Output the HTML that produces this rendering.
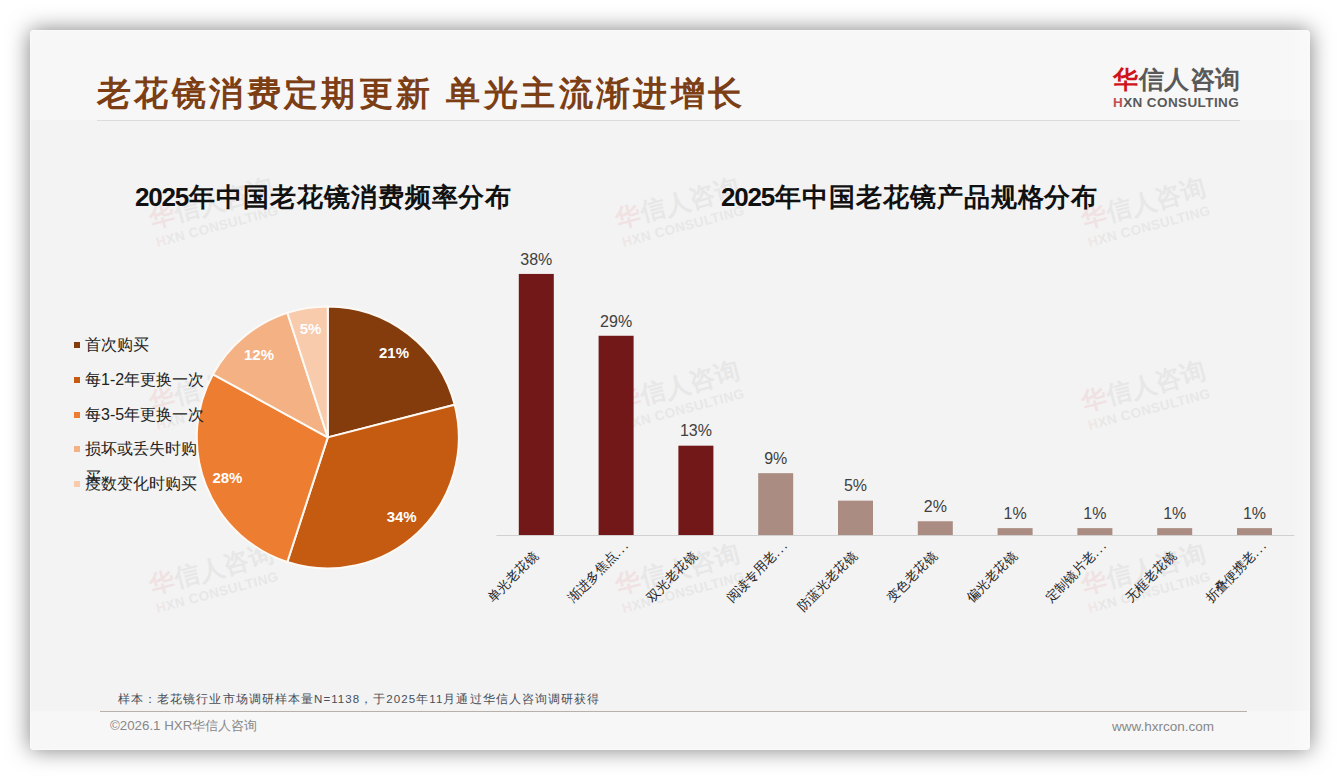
<!DOCTYPE html>
<html><head><meta charset="utf-8"><style>
*{margin:0;padding:0;box-sizing:border-box}
html,body{width:1340px;height:780px;overflow:hidden;background:#fff;font-family:"Liberation Sans", sans-serif}
.abs{position:absolute}
#slide{position:absolute;left:30px;top:30px;width:1280px;height:720px;background:#f3f3f3;box-shadow:0 0 22px rgba(0,0,0,.5);border:1px solid #fafafa;border-radius:3px}
#hdr{position:absolute;left:31px;top:31px;width:1278px;height:89px;background:#f7f7f7;border-radius:2px 2px 0 0}
#ftr{position:absolute;left:31px;top:711px;width:1278px;height:38px;background:#f7f7f7;border-radius:0 0 2px 2px}
.title{position:absolute;left:97px;top:70px;font-size:34px;font-weight:bold;color:#7C3E14;white-space:nowrap;line-height:46px;letter-spacing:3.4px}
.hline{position:absolute;left:97px;top:120px;width:1143px;height:1px;background:#dcdcdc}
.logo1{position:absolute;left:1113px;top:62.5px;font-size:25px;line-height:32px;color:#595959;font-weight:bold;white-space:nowrap;letter-spacing:0.6px}
.logo2{position:absolute;left:1113px;top:95px;font-size:13.5px;line-height:15px;color:#595959;font-weight:bold;white-space:nowrap;letter-spacing:0.4px}
.ct{position:absolute;font-size:26px;font-weight:bold;color:#111;white-space:nowrap;line-height:34px;letter-spacing:0.9px}
.dg{letter-spacing:-1.2px;margin-right:1.4px}
.wm{position:absolute;width:130px;height:50px;transform-origin:0.5px 43.5px;transform:rotate(-15deg);opacity:.07;white-space:nowrap}
.wm1{position:absolute;left:0;top:0;font-size:25px;line-height:32px;color:#595959;font-weight:bold;letter-spacing:0.6px}
.wm2{position:absolute;left:0px;top:32.5px;font-size:13.5px;line-height:15px;color:#595959;font-weight:bold;letter-spacing:0.4px}
.lm{position:absolute;left:74px;width:6px;height:6px}
.lt{position:absolute;left:85px;font-size:16px;line-height:22px;color:#222;white-space:nowrap}
.el{letter-spacing:1.8px;margin-right:-16px}
.xl{position:absolute;width:150px;text-align:right;font-size:13px;line-height:20px;color:#222;white-space:nowrap;transform-origin:100% 50%;transform:rotate(-45deg)}
.note{position:absolute;left:118px;top:690.5px;font-size:11.5px;line-height:16px;color:#474e58;white-space:nowrap;letter-spacing:1.07px}
.fline{position:absolute;left:100px;top:711px;width:1147px;height:1px;background:#b8b0aa}
.copy{position:absolute;left:110px;top:717px;font-size:13.3px;line-height:17px;color:#888;white-space:nowrap}
.web{position:absolute;left:1112px;top:717.5px;font-size:13.5px;line-height:17px;color:#888;white-space:nowrap}
</style></head><body>
<div id="slide"></div>
<div id="hdr"></div>
<div id="ftr"></div>
<div style="position:absolute;left:1291px;top:31px;width:18px;height:718px;background:linear-gradient(to right,rgba(255,255,255,0),rgba(255,255,255,.35))"></div>
<div class="wm" style="left:156.9px;top:201.5px"><div class="wm1"><span style="color:#d0121b">华</span>信人咨询</div><div class="wm2"><span style="color:#c0504d">H</span>XN CONSULTING</div></div>
<div class="wm" style="left:623.0px;top:201.5px"><div class="wm1"><span style="color:#d0121b">华</span>信人咨询</div><div class="wm2"><span style="color:#c0504d">H</span>XN CONSULTING</div></div>
<div class="wm" style="left:1089.1px;top:201.5px"><div class="wm1"><span style="color:#d0121b">华</span>信人咨询</div><div class="wm2"><span style="color:#c0504d">H</span>XN CONSULTING</div></div>
<div class="wm" style="left:156.9px;top:384.8px"><div class="wm1"><span style="color:#d0121b">华</span>信人咨询</div><div class="wm2"><span style="color:#c0504d">H</span>XN CONSULTING</div></div>
<div class="wm" style="left:623.0px;top:384.8px"><div class="wm1"><span style="color:#d0121b">华</span>信人咨询</div><div class="wm2"><span style="color:#c0504d">H</span>XN CONSULTING</div></div>
<div class="wm" style="left:1089.1px;top:384.8px"><div class="wm1"><span style="color:#d0121b">华</span>信人咨询</div><div class="wm2"><span style="color:#c0504d">H</span>XN CONSULTING</div></div>
<div class="wm" style="left:156.9px;top:568.1px"><div class="wm1"><span style="color:#d0121b">华</span>信人咨询</div><div class="wm2"><span style="color:#c0504d">H</span>XN CONSULTING</div></div>
<div class="wm" style="left:623.0px;top:568.1px"><div class="wm1"><span style="color:#d0121b">华</span>信人咨询</div><div class="wm2"><span style="color:#c0504d">H</span>XN CONSULTING</div></div>
<div class="wm" style="left:1089.1px;top:568.1px"><div class="wm1"><span style="color:#d0121b">华</span>信人咨询</div><div class="wm2"><span style="color:#c0504d">H</span>XN CONSULTING</div></div>
<div class="title">老花镜消费定期更新 单光主流渐进增长</div>
<div class="hline"></div>
<div class="logo1"><span style="color:#d0121b">华</span>信人咨询</div>
<div class="logo2"><span style="color:#c0504d">H</span>XN CONSULTING</div>
<div class="ct" style="left:135px;top:180px"><span class="dg">2025</span>年中国老花镜消费频率分布</div>
<div class="ct" style="left:721px;top:180px"><span class="dg">2025</span>年中国老花镜产品规格分布</div>
<svg class="abs" style="left:0;top:0" width="1340" height="780" viewBox="0 0 1340 780" font-family='"Liberation Sans", sans-serif'>
<path d="M327.80,437.40 L327.80,306.40 A131.0,131.0 0 0 1 454.68,404.82 Z" fill="#843C0C" stroke="#fdf9f4" stroke-width="2" stroke-linejoin="round"/>
<path d="M327.80,437.40 L454.68,404.82 A131.0,131.0 0 0 1 287.32,561.99 Z" fill="#C55A11" stroke="#fdf9f4" stroke-width="2" stroke-linejoin="round"/>
<path d="M327.80,437.40 L287.32,561.99 A131.0,131.0 0 0 1 213.00,374.29 Z" fill="#ED7D31" stroke="#fdf9f4" stroke-width="2" stroke-linejoin="round"/>
<path d="M327.80,437.40 L213.00,374.29 A131.0,131.0 0 0 1 287.32,312.81 Z" fill="#F4B183" stroke="#fdf9f4" stroke-width="2" stroke-linejoin="round"/>
<path d="M327.80,437.40 L287.32,312.81 A131.0,131.0 0 0 1 327.80,306.40 Z" fill="#F8CBAD" stroke="#fdf9f4" stroke-width="2" stroke-linejoin="round"/>
<text x="394.0" y="357.9" text-anchor="middle" font-size="15" font-weight="bold" fill="#fff">21%</text>
<text x="401.7" y="521.9" text-anchor="middle" font-size="15" font-weight="bold" fill="#fff">34%</text>
<text x="227.4" y="483.0" text-anchor="middle" font-size="15" font-weight="bold" fill="#fff">28%</text>
<text x="259.0" y="360.0" text-anchor="middle" font-size="15" font-weight="bold" fill="#fff">12%</text>
<text x="310.5" y="334.1" text-anchor="middle" font-size="15" font-weight="bold" fill="#fff">5%</text>
<line x1="496.4" y1="535.5" x2="1294.4" y2="535.5" stroke="#d0d0d0" stroke-width="1"/>
<rect x="518.80" y="273.94" width="35" height="261.06" fill="#721818"/>
<text x="536.30" y="264.74" text-anchor="middle" font-size="16" fill="#404040">38%</text>
<rect x="598.60" y="335.77" width="35" height="199.23" fill="#721818"/>
<text x="616.10" y="326.57" text-anchor="middle" font-size="16" fill="#404040">29%</text>
<rect x="678.40" y="445.69" width="35" height="89.31" fill="#721818"/>
<text x="695.90" y="436.49" text-anchor="middle" font-size="16" fill="#404040">13%</text>
<rect x="758.20" y="473.17" width="35" height="61.83" fill="#AA8C82"/>
<text x="775.70" y="463.97" text-anchor="middle" font-size="16" fill="#404040">9%</text>
<rect x="838.00" y="500.65" width="35" height="34.35" fill="#AA8C82"/>
<text x="855.50" y="491.45" text-anchor="middle" font-size="16" fill="#404040">5%</text>
<rect x="917.80" y="521.26" width="35" height="13.74" fill="#AA8C82"/>
<text x="935.30" y="512.06" text-anchor="middle" font-size="16" fill="#404040">2%</text>
<rect x="997.60" y="528.13" width="35" height="6.87" fill="#AA8C82"/>
<text x="1015.10" y="518.93" text-anchor="middle" font-size="16" fill="#404040">1%</text>
<rect x="1077.40" y="528.13" width="35" height="6.87" fill="#AA8C82"/>
<text x="1094.90" y="518.93" text-anchor="middle" font-size="16" fill="#404040">1%</text>
<rect x="1157.20" y="528.13" width="35" height="6.87" fill="#AA8C82"/>
<text x="1174.70" y="518.93" text-anchor="middle" font-size="16" fill="#404040">1%</text>
<rect x="1237.00" y="528.13" width="35" height="6.87" fill="#AA8C82"/>
<text x="1254.50" y="518.93" text-anchor="middle" font-size="16" fill="#404040">1%</text>
</svg>
<div class="lm" style="top:342px;background:#843C0C"></div><div class="lt" style="top:334px">首次购买</div>
<div class="lm" style="top:377px;background:#C55A11"></div><div class="lt" style="top:369px">每1-2年更换一次</div>
<div class="lm" style="top:412px;background:#ED7D31"></div><div class="lt" style="top:404px">每3-5年更换一次</div>
<div class="lm" style="top:446px;background:#F4B183"></div><div class="lt" style="top:438px">损坏或丢失时购</div>
<div class="lm" style="top:481px;background:#F8CBAD"></div><div class="lt" style="top:473px">度数变化时购买</div>
<div class="lt" style="top:467px">买</div>
<div class="xl" style="left:385.8px;top:543.8px">单光老花镜</div>
<div class="xl" style="left:465.6px;top:543.8px">渐进多焦点<span class="el">...</span></div>
<div class="xl" style="left:545.4px;top:543.8px">双光老花镜</div>
<div class="xl" style="left:625.2px;top:543.8px">阅读专用老<span class="el">...</span></div>
<div class="xl" style="left:705.0px;top:543.8px">防蓝光老花镜</div>
<div class="xl" style="left:784.8px;top:543.8px">变色老花镜</div>
<div class="xl" style="left:864.6px;top:543.8px">偏光老花镜</div>
<div class="xl" style="left:944.4px;top:543.8px">定制镜片老<span class="el">...</span></div>
<div class="xl" style="left:1024.2px;top:543.8px">无框老花镜</div>
<div class="xl" style="left:1104.0px;top:543.8px">折叠便携老<span class="el">...</span></div>
<div class="note">样本：老花镜行业市场调研样本量N=1138，于2025年11月通过华信人咨询调研获得</div>
<div class="fline"></div>
<div class="copy">©2026.1 HXR华信人咨询</div>
<div class="web">www.hxrcon.com</div>
</body></html>
